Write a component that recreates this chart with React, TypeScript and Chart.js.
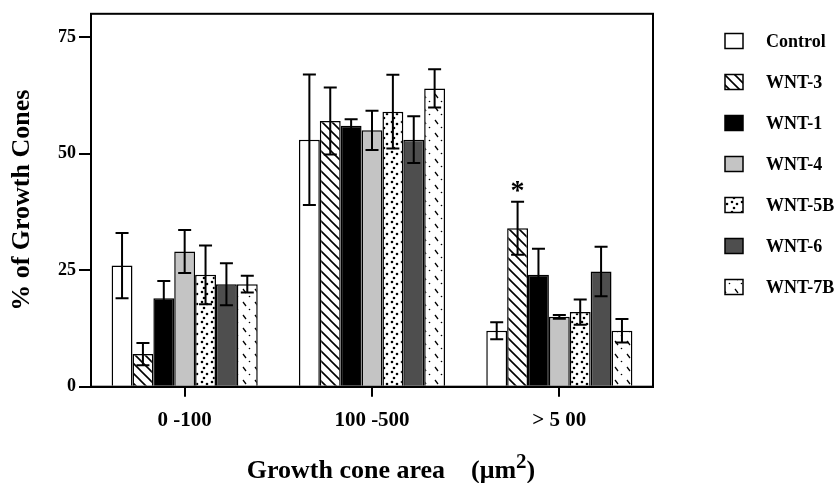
import React, { useEffect, useRef } from 'react';
import { Chart, registerables } from 'chart.js';

Chart.register(...registerables);

const categories = ['0 -100', '100 -500', '> 5 00'];
const seriesNames = ['Control', 'WNT-3', 'WNT-1', 'WNT-4', 'WNT-5B', 'WNT-6', 'WNT-7B'];

const controlValues = [26, 53, 12];
const wnt3Values = [7, 57, 34];
const wnt1Values = [19, 56, 24];
const wnt4Values = [29, 55, 15];
const wnt5bValues = [24, 59, 16];
const wnt6Values = [22, 53, 24.7];
const wnt7bValues = [22, 64, 12];

const controlErrors = [7, 14, 1.8];
const wnt3Errors = [2.4, 7.2, 5.7];
const wnt1Errors = [3.7, 1.4, 5.6];
const wnt4Errors = [4.6, 4.2, 0.4];
const wnt5bErrors = [6.3, 7.9, 2.7];
const wnt6Errors = [4.5, 5, 5.3];
const wnt7bErrors = [1.8, 4.1, 2.5];

const yTickValues = [0, 25, 50, 75];
const significanceMarks = [{ category: 2, series: 1, mark: '*' }];

const yTitle = '% of Growth Cones';
const xTitleMain = 'Growth cone area    (\u03bcm';
const xTitleSup = '2';
const xTitleEnd = ')';

const FONT = '"Liberation Serif", "Times New Roman", serif';

function makePattern(kind: string): CanvasPattern | string {
  const c = document.createElement('canvas');
  const ctx = c.getContext('2d')!;
  if (kind === 'hatch') {
    c.width = 10; c.height = 10;
    ctx.fillStyle = '#fff'; ctx.fillRect(0, 0, 10, 10);
    ctx.strokeStyle = '#000'; ctx.lineWidth = 1.6;
    ctx.beginPath();
    ctx.moveTo(-2, -2); ctx.lineTo(12, 12);
    ctx.moveTo(-7, 3); ctx.lineTo(7, 17);
    ctx.moveTo(3, -7); ctx.lineTo(17, 7);
    ctx.stroke();
  } else if (kind === 'dots') {
    c.width = 10; c.height = 10;
    ctx.fillStyle = '#fff'; ctx.fillRect(0, 0, 10, 10);
    ctx.fillStyle = '#000';
    [[2, 2], [7, 4], [4, 8]].forEach(([x, y]) => {
      ctx.beginPath(); ctx.arc(x, y, 1.3, 0, Math.PI * 2); ctx.fill();
    });
  } else if (kind === 'dash') {
    c.width = 12; c.height = 13;
    ctx.fillStyle = '#fff'; ctx.fillRect(0, 0, 12, 13);
    ctx.strokeStyle = '#000'; ctx.lineWidth = 1.3;
    ctx.beginPath();
    ctx.moveTo(3, 3); ctx.lineTo(6, 7);
    ctx.stroke();
    ctx.fillStyle = '#000';
    ctx.beginPath(); ctx.arc(9.5, 10.5, 0.8, 0, Math.PI * 2); ctx.fill();
  }
  return ctx.createPattern(c, 'repeat') || '#fff';
}

const errorBarPlugin = {
  id: 'errorBars',
  afterDatasetsDraw(chart: any) {
    const ctx = chart.ctx;
    const y = chart.scales.y;
    ctx.save();
    ctx.strokeStyle = '#000';
    ctx.lineWidth = 2;
    chart.data.datasets.forEach((ds: any, di: number) => {
      const meta = chart.getDatasetMeta(di);
      meta.data.forEach((bar: any, i: number) => {
        const v = ds.data[i];
        const e = ds.errors[i];
        const x = bar.x;
        const yt = y.getPixelForValue(v + e);
        const yb = y.getPixelForValue(v - e);
        const cap = 6.5;
        ctx.beginPath();
        ctx.moveTo(x, yt); ctx.lineTo(x, yb);
        ctx.moveTo(x - cap, yt); ctx.lineTo(x + cap, yt);
        ctx.moveTo(x - cap, yb); ctx.lineTo(x + cap, yb);
        ctx.stroke();
      });
    });
    ctx.fillStyle = '#000';
    ctx.font = `bold 28px ${FONT}`;
    ctx.textAlign = 'center';
    ctx.textBaseline = 'alphabetic';
    significanceMarks.forEach((m) => {
      const ds = chart.data.datasets[m.series];
      const bar = chart.getDatasetMeta(m.series).data[m.category];
      const top = y.getPixelForValue(ds.data[m.category] + ds.errors[m.category]);
      ctx.fillText(m.mark, bar.x, top - 3);
    });
    ctx.restore();
  },
};

const framePlugin = {
  id: 'frame',
  afterDraw(chart: any) {
    const { ctx, chartArea } = chart;
    ctx.save();
    ctx.strokeStyle = '#000';
    ctx.lineWidth = 2;
    ctx.strokeRect(chartArea.left, chartArea.top, chartArea.right - chartArea.left, chartArea.bottom - chartArea.top);
    ctx.fillStyle = '#000';
    ctx.textBaseline = 'alphabetic';
    ctx.textAlign = 'left';
    const mainFont = `bold 26px ${FONT}`;
    const supFont = `bold 21px ${FONT}`;
    ctx.font = mainFont;
    const w1 = ctx.measureText(xTitleMain).width;
    const w3 = ctx.measureText(xTitleEnd).width;
    ctx.font = supFont;
    const w2 = ctx.measureText(xTitleSup).width;
    const total = w1 + w2 + w3;
    const cx = 391;
    let x = cx - total / 2;
    const base = 478;
    ctx.font = mainFont;
    ctx.fillText(xTitleMain, x, base);
    x += w1;
    ctx.font = supFont;
    ctx.fillText(xTitleSup, x, base - 10);
    x += w2;
    ctx.font = mainFont;
    ctx.fillText(xTitleEnd, x, base);
    ctx.restore();
  },
};

const legendPlugin = {
  id: 'customLegend',
  afterDraw(chart: any) {
    const ctx = chart.ctx;
    ctx.save();
    ctx.font = `bold 18px ${FONT}`;
    ctx.textBaseline = 'middle';
    ctx.textAlign = 'left';
    chart.data.datasets.forEach((ds: any, i: number) => {
      const cy = 41 + i * 41;
      ctx.fillStyle = ds.backgroundColor;
      ctx.fillRect(725, cy - 7.5, 18, 15);
      ctx.strokeStyle = '#000';
      ctx.lineWidth = 1.5;
      ctx.strokeRect(725, cy - 7.5, 18, 15);
      ctx.fillStyle = '#000';
      ctx.fillText(ds.label, 766, cy + 1);
    });
    ctx.restore();
  },
};

export default function App() {
  const ref = useRef<HTMLCanvasElement>(null);
  useEffect(() => {
    const fills: (CanvasPattern | string)[] = [
      '#ffffff',
      makePattern('hatch'),
      '#000000',
      '#c4c4c4',
      makePattern('dots'),
      '#4e4e4e',
      makePattern('dash'),
    ];
    const values = [controlValues, wnt3Values, wnt1Values, wnt4Values, wnt5bValues, wnt6Values, wnt7bValues];
    const errors = [controlErrors, wnt3Errors, wnt1Errors, wnt4Errors, wnt5bErrors, wnt6Errors, wnt7bErrors];
    const chart = new Chart(ref.current!, {
      type: 'bar',
      data: {
        labels: categories,
        datasets: seriesNames.map((name, i) => ({
          label: name,
          data: values[i],
          errors: errors[i],
          backgroundColor: fills[i],
          borderColor: '#000',
          borderWidth: 1.5,
          categoryPercentage: 0.78,
          barPercentage: 1.0,
        })) as any,
      },
      options: {
        animation: false,
        responsive: false,
        layout: { padding: { top: 10, right: 186, bottom: 0, left: 0 } },
        plugins: {
          legend: { display: false },
          tooltip: { enabled: false },
        },
        scales: {
          x: {
            grid: { display: true, drawOnChartArea: false, drawTicks: true, tickLength: 10, offset: false, color: '#000', lineWidth: 2 },
            border: { display: true, color: '#000', width: 2 },
            ticks: { color: '#000', font: { family: FONT, size: 21, weight: 'bold' }, padding: 11, maxRotation: 0 },
            afterFit: (s: any) => { s.height = 96.3; },
          },
          y: {
            min: 0,
            max: 80,
            grid: { display: true, drawOnChartArea: false, drawTicks: true, tickLength: 12, color: '#000', lineWidth: 2 },
            border: { display: true, color: '#000', width: 2 },
            ticks: { stepSize: 25, color: '#000', font: { family: FONT, size: 18, weight: 'bold' }, padding: 3 },
            afterBuildTicks: (s: any) => { s.ticks = yTickValues.map((v) => ({ value: v })); },
            afterFit: (s: any) => { s.width = 91; },
            title: { display: true, text: yTitle, color: '#000', font: { family: FONT, size: 26, weight: 'bold' }, padding: { top: 7, bottom: 0 } },
          },
        },
      },
      plugins: [errorBarPlugin, framePlugin, legendPlugin],
    });
    return () => chart.destroy();
  }, []);
  return (
    <div style={{ position: 'fixed', left: 0, top: 0, width: 839, height: 483, background: '#fff' }}>
      <canvas ref={ref} width={839} height={483} style={{ width: 839, height: 483, display: 'block' }} />
    </div>
  );
}
